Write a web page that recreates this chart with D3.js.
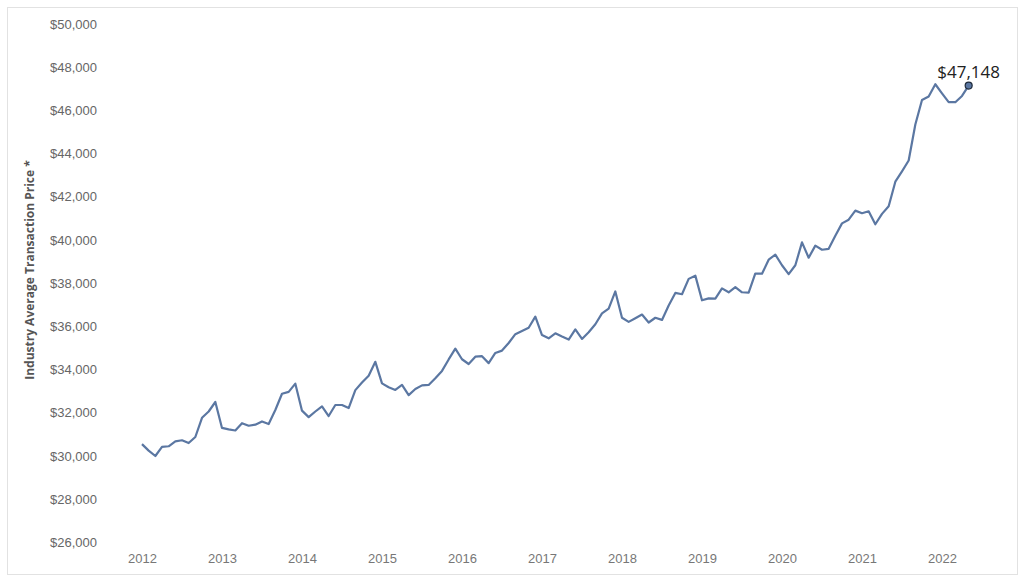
<!DOCTYPE html>
<html>
<head>
<meta charset="utf-8">
<script src="https://cdn.jsdelivr.net/npm/d3@7"></script>
<style>
  body { margin: 0; background: #fff; }
  svg { font-family: "Open Sans", "DejaVu Sans", sans-serif; }
</style>
</head>
<body>
<script>
// monthly average transaction price, Jan 2012 .. May 2022
var startYear = 2012
var prices = [
  30550, 30250, 30000, 30420, 30450, 30680, 30730, 30600, 30880, 31770, 32060, 32500,
  31300, 31230, 31180, 31520, 31400, 31450, 31600, 31480, 32130, 32880, 32970, 33350,
  32100, 31800, 32060, 32300, 31850, 32360, 32360, 32220, 33050, 33400, 33720, 34360,
  33360, 33180, 33060, 33290, 32820, 33100, 33270, 33290, 33600, 33940, 34470, 34970,
  34480, 34260, 34600, 34620, 34300, 34770, 34880, 35230, 35640, 35790, 35940, 36450,
  35600, 35450, 35680, 35530, 35390, 35860, 35420, 35730, 36100, 36600, 36820, 37620,
  36400, 36210, 36380, 36550, 36180, 36400, 36300, 36970, 37550, 37490, 38200, 38350,
  37210, 37300, 37290, 37760, 37580, 37820, 37580, 37560, 38450, 38440, 39090, 39320,
  38830, 38420, 38830, 39890, 39180, 39740, 39550, 39590, 40200, 40770, 40940, 41360,
  41240, 41330, 40730, 41210, 41560, 42700, 43180, 43680, 45350, 46480, 46640, 47210,
  46790, 46380, 46380, 46670, 47148
]
var yearTicks = [2012, 2013, 2014, 2015, 2016, 2017, 2018, 2019, 2020, 2021, 2022]
var priceTicks = [26000, 28000, 30000, 32000, 34000, 36000, 38000, 40000, 42000, 44000, 46000, 48000, 50000]

var W = 1024, H = 581
var svg = d3.select('body').append('svg').attr('width', W).attr('height', H)

// outer frame
svg.append('rect')
    .attr('x', 7.5).attr('y', 7.5)
    .attr('width', 1010).attr('height', 567)
    .attr('fill', 'none')
    .attr('stroke', '#e2e2e2')

var data = prices.map(function (v, i) {
  return { t: startYear + i / 12, v: v }
})

var x = d3.scaleLinear().domain([2012, 2022]).range([142, 942])
var y = d3.scaleLinear().domain([30000, 50000]).range([456, 24])

var yAxis = svg.append('g')
    .attr('transform', 'translate(104,0)')
    .call(d3.axisLeft(y).tickValues(priceTicks).tickSize(0).tickPadding(7)
      .tickFormat(function (d) { return '$' + d3.format(',')(d) }))
yAxis.select('.domain').remove()
yAxis.selectAll('text').attr('fill', '#666').style('font-size', '13px')

var xAxis = svg.append('g')
    .attr('transform', 'translate(0,552)')
    .call(d3.axisBottom(x).tickValues(yearTicks).tickSize(0).tickPadding(2)
      .tickFormat(d3.format('d')))
xAxis.select('.domain').remove()
xAxis.selectAll('text').attr('fill', '#777').style('font-size', '13px')

svg.append('text')
    .attr('transform', 'translate(34,270) rotate(-90)')
    .attr('text-anchor', 'middle')
    .attr('fill', '#555')
    .style('font-size', '12px')
    .style('font-weight', 'bold')
    .text('Industry Average Transaction Price *')

var line = d3.line()
    .x(function (d) { return x(d.t) })
    .y(function (d) { return y(d.v) })

svg.append('path')
    .datum(data)
    .attr('d', line)
    .attr('fill', 'none')
    .attr('stroke', '#5b77a2')
    .attr('stroke-width', 2.2)
    .attr('stroke-linejoin', 'round')

var last = data[data.length - 1]
svg.append('circle')
    .attr('cx', x(last.t)).attr('cy', y(last.v))
    .attr('r', 3.5)
    .attr('fill', '#5b77a2')
    .attr('stroke', '#1e2a3a')
    .attr('stroke-width', 1.2)

svg.append('text')
    .attr('x', x(last.t))
    .attr('y', y(last.v) - 8)
    .attr('text-anchor', 'middle')
    .attr('fill', '#222')
    .style('font-size', '17px')
    .text('$' + d3.format(',')(last.v))
</script>
</body>
</html>
